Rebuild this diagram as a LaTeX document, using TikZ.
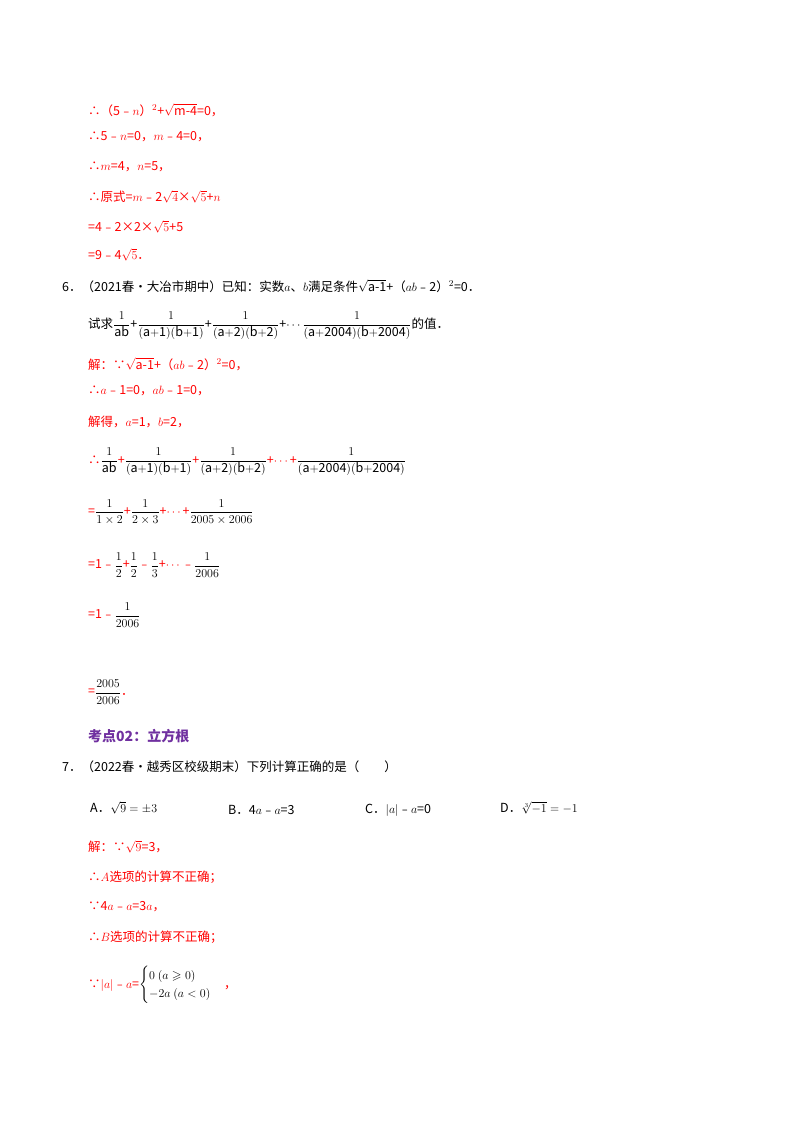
\documentclass[tikz,border=0pt]{standalone}
\usepackage{amsmath,amssymb}
\usepackage{fontspec}
\setmainfont{Noto Sans CJK SC}
\begin{document}
\begin{tikzpicture}[x=1pt,y=1pt,
  ans/.style={anchor=west,inner sep=0pt,text=red,font=\fontsize{12.5}{15}\selectfont},
  q/.style={anchor=west,inner sep=0pt,text=black,font=\fontsize{12.5}{15}\selectfont},
  hd/.style={anchor=west,inner sep=0pt,text={rgb,255:red,112;green,48;blue,160},font=\fontsize{14}{16}\selectfont\bfseries}]
\fill[white] (0,0) rectangle (800,-1132);
\node[ans] (l1) at (88,-110) {∴（5﹣$n$）$^2$+$\sqrt{\mathrm{m\text{-}4}}$=0，};
\node[ans] (l2) at (88,-137) {∴5﹣$n$=0，$m$﹣4=0，};
\node[ans] (l3) at (88,-167) {∴$m$=4，$n$=5，};
\node[ans] (l4) at (88,-197) {∴原式=$m$﹣2$\sqrt{4}$×$\sqrt{5}$+$n$};
\node[ans] (l5) at (88,-227) {=4﹣2×2×$\sqrt{5}$+5};
\node[ans] (l6) at (88,-255) {=9﹣4$\sqrt{5}$．};
\node[q] (l7) at (62,-286) {6．（2021春•大冶市期中）已知：实数$a$、$b$满足条件$\sqrt{\mathrm{a\text{-}1}}$+（$ab$﹣2）$^2$=0．};
\node[q] (l8) at (88,-326) {试求$\dfrac{1}{\mathrm{ab}}$+$\dfrac{1}{\mathrm{(a{+}1)(b{+}1)}}$+$\dfrac{1}{\mathrm{(a{+}2)(b{+}2)}}$+$\cdots$$\dfrac{1}{\mathrm{(a{+}2004)(b{+}2004)}}$的值．};
\node[ans] (l9) at (88,-364) {解：∵$\sqrt{\mathrm{a\text{-}1}}$+（$ab$﹣2）$^2$=0，};
\node[ans] (l10) at (88,-391) {∴$a$﹣1=0，$ab$﹣1=0，};
\node[ans] (l11) at (88,-422) {解得，$a$=1，$b$=2，};
\node[ans] (l12) at (88,-462) {∴$\color{black}\dfrac{1}{\mathrm{ab}}$+$\color{black}\dfrac{1}{\mathrm{(a{+}1)(b{+}1)}}$+$\color{black}\dfrac{1}{\mathrm{(a{+}2)(b{+}2)}}$+$\cdots$+$\color{black}\dfrac{1}{\mathrm{(a{+}2004)(b{+}2004)}}$};
\node[ans] (l13) at (88,-512) {=$\color{black}\dfrac{1}{1\times2}$+$\color{black}\dfrac{1}{2\times3}$+$\cdots$+$\color{black}\dfrac{1}{2005\times2006}$};
\node[ans] (l14) at (88,-565) {=1﹣$\color{black}\dfrac{1}{2}$+$\color{black}\dfrac{1}{2}$﹣$\color{black}\dfrac{1}{3}$+$\cdots$﹣$\color{black}\dfrac{1}{2006}$};
\node[ans] (l15) at (88,-615) {=1﹣$\color{black}\dfrac{1}{2006}$};
\node[ans] (l16) at (88,-692) {=$\color{black}\dfrac{2005}{2006}$．};
\node[hd] (l17) at (88,-736) {考点02：立方根};
\node[q] (l18) at (62,-767) {7．（2022春•越秀区校级期末）下列计算正确的是（\quad\quad）};
\node[q] (l19) at (90,-808) {A．$\sqrt{9}=\pm3$};
\node[q] (l20) at (228,-810) {B．4$a$﹣$a$=3};
\node[q] (l21) at (365,-810) {C．$|a|$﹣$a$=0};
\node[q] (l22) at (500,-808) {D．$\sqrt[3]{-1}=-1$};
\node[ans] (l23) at (88,-847) {解：∵$\sqrt{9}$=3，};
\node[ans] (l24) at (88,-877) {∴$A$选项的计算不正确；};
\node[ans] (l25) at (88,-907) {∵4$a$﹣$a$=3$a$，};
\node[ans] (l26) at (88,-937) {∴$B$选项的计算不正确；};
\node[ans] (l27) at (88,-985) {∵$|a|$﹣$a$=$\color{black}\begin{cases}0\ (a\geqslant0)\\-2a\ (a<0)\end{cases}$，};
\end{tikzpicture}
\end{document}
